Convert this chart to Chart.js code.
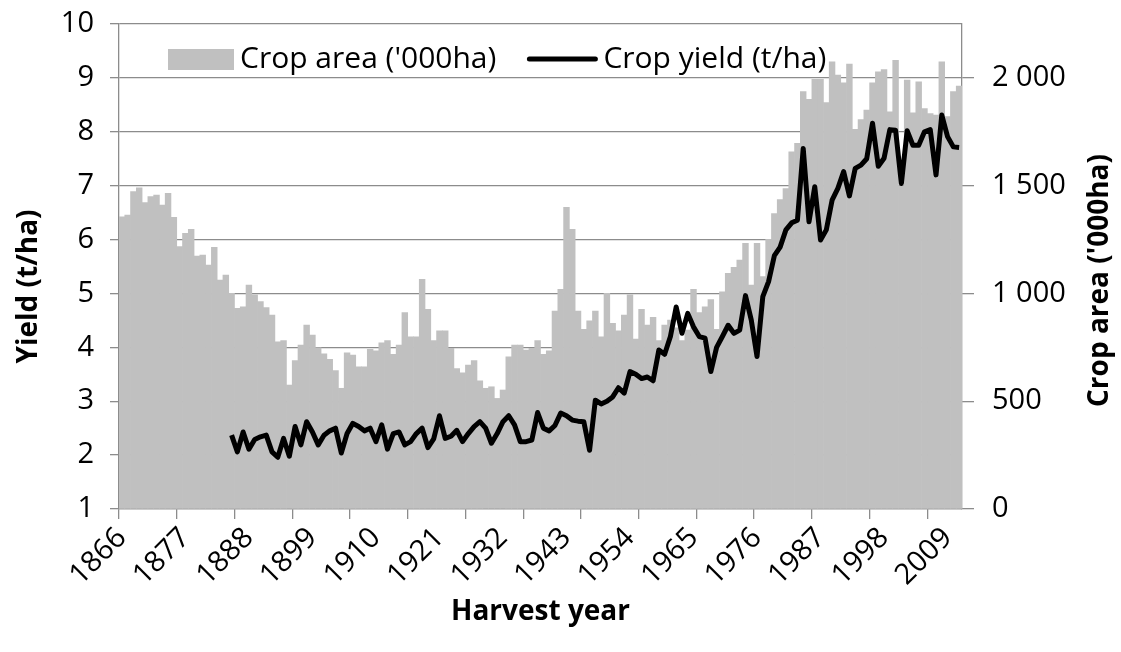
<!DOCTYPE html>
<html>
<head>
<meta charset="utf-8">
<title>Crop area and yield</title>
<script src="https://cdn.jsdelivr.net/npm/chart.js@4.4.1/dist/chart.umd.min.js"></script>
<style>
  html, body { margin: 0; padding: 0; background: #fff; }
  #wrap { width: 1121px; height: 652px; }
</style>
</head>
<body>
<div id="wrap"><canvas id="chart"></canvas></div>
<script>
// ---- data -------------------------------------------------------------
const firstYear = 1866;
const lastYear  = 2011;
const years = [];
for (let y = firstYear; y <= lastYear; y++) years.push(String(y));

// crop area ('000 ha), one value per harvest year 1866-2011
const cropArea = [
  1356, 1364, 1472, 1490, 1421, 1449, 1456, 1410, 1464, 1353,
  1217, 1279, 1297, 1173, 1178, 1132, 1214, 1062, 1085, 1000,
   931,  938, 1039,  993,  962,  935,  900,  776,  781,  575,
   688,  761,  853,  807,  748,  720,  694,  642,  560,  725,
   714,  660,  660,  741,  734,  771,  781,  717,  761,  911,
   799,  799, 1065,  926,  781,  826,  826,  745,  652,  632,
   668,  688,  595,  560,  567,  513,  552,  706,  761,  761,
   737,  745,  781,  717,  734,  918, 1019, 1399, 1297,  918,
   833,  873,  918,  799, 1000,  861,  827,  900,  993,  788,
   926,  853,  889,  781,  853,  877,  840,  781,  830, 1019,
   911,  938,  972,  833, 1008, 1093, 1121, 1155, 1232, 1039,
  1232, 1078, 1251, 1371, 1436, 1487, 1657, 1696, 1936, 1900,
  1993, 1993, 1885, 2075, 2013, 1977, 2064, 1761, 1807, 1851,
  1977, 2028, 2039, 1843, 2082, 1500, 1990, 1838, 1982, 1858,
  1835, 1827, 2075, 1820, 1936, 1962
];

// crop yield (t/ha); no record before 1885
const cropYield = [
  null, null, null, null, null, null, null, null, null, null,
  null, null, null, null, null, null, null, null, null, 2.37,
  2.06, 2.43, 2.11, 2.29, 2.34, 2.37, 2.06, 1.96, 2.31, 1.98,
  2.53, 2.19, 2.62, 2.43, 2.19, 2.37, 2.45, 2.50, 2.04, 2.40,
  2.59, 2.53, 2.45, 2.50, 2.25, 2.56, 2.11, 2.40, 2.43, 2.19,
  2.25, 2.40, 2.50, 2.14, 2.30, 2.73, 2.31, 2.35, 2.46, 2.25,
  2.40, 2.53, 2.62, 2.50, 2.22, 2.40, 2.62, 2.73, 2.56, 2.25,
  2.25, 2.28, 2.79, 2.50, 2.45, 2.55, 2.78, 2.73, 2.65, 2.63,
  2.62, 2.09, 3.02, 2.95, 3.00, 3.08, 3.25, 3.15, 3.55, 3.50,
  3.42, 3.45, 3.38, 3.95, 3.87, 4.20, 4.75, 4.26, 4.63, 4.38,
  4.20, 4.17, 3.55, 4.00, 4.20, 4.41, 4.26, 4.32, 4.96, 4.51,
  3.83, 4.94, 5.22, 5.70, 5.86, 6.18, 6.31, 6.36, 7.69, 6.33,
  6.98, 5.99, 6.18, 6.73, 6.95, 7.26, 6.81, 7.32, 7.38, 7.50,
  8.16, 7.36, 7.51, 8.04, 8.03, 7.04, 8.02, 7.75, 7.75, 8.00,
  8.04, 7.20, 8.31, 7.91, 7.72, 7.71
];

const yTicks  = [1, 2, 3, 4, 5, 6, 7, 8, 9, 10];
const y2Ticks = [0, 500, 1000, 1500, 2000];

const seriesNames = ["Crop area ('000ha)", 'Crop yield (t/ha)'];
const xTitle  = 'Harvest year';
const yTitle  = 'Yield (t/ha)';
const y2Title = "Crop area ('000ha)";

const labelEvery = 11;   // one year label every 11 years
const tickEvery  = 10;   // tick marks every 10 categories

// ---- look -------------------------------------------------------------
const FONT = '"Open Sans", "DejaVu Sans", sans-serif';
const GREY = '#c0c0c0';
const AXIS = '#8c8c8c';
Chart.defaults.font.family = FONT;
Chart.defaults.color = '#000';

const fmtThousands = v => String(v).replace(/\B(?=(\d{3})+(?!\d))/g, ' ');

// legend sits inside the plot area
const insideLegend = {
  id: 'insideLegend',
  afterDraw(chart) {
    const { ctx, chartArea } = chart;
    const y = chartArea.top + 35;
    ctx.save();
    ctx.font = '30px ' + FONT;
    ctx.textBaseline = 'middle';
    ctx.fillStyle = GREY;
    let x = chartArea.left + 49;
    ctx.fillRect(x, y - 10, 66, 21);
    ctx.fillStyle = '#000';
    x += 72;
    ctx.fillText(seriesNames[0], x, y);
    x += ctx.measureText(seriesNames[0]).width + 33;
    ctx.strokeStyle = '#000';
    ctx.lineWidth = 5;
    ctx.lineCap = 'round';
    ctx.beginPath();
    ctx.moveTo(x, y);
    ctx.lineTo(x + 66, y);
    ctx.stroke();
    ctx.fillText(seriesNames[1], x + 74, y);
    ctx.restore();
  }
};

// axis titles
const axisTitles = {
  id: 'axisTitles',
  afterDraw(chart) {
    const { ctx, chartArea, width, height } = chart;
    const midY = (chartArea.top + chartArea.bottom) / 2;
    ctx.save();
    ctx.font = 'bold 28px ' + FONT;
    ctx.fillStyle = '#000';
    ctx.textAlign = 'center';
    ctx.textBaseline = 'middle';
    ctx.fillText(xTitle, (chartArea.left + chartArea.right) / 2, height - 40);

    ctx.save();
    ctx.translate(29, midY + 20);
    ctx.rotate(-Math.PI / 2);
    ctx.fillText(yTitle, 0, 0);
    ctx.restore();

    ctx.save();
    ctx.translate(width - 21, midY + 14);
    ctx.rotate(-Math.PI / 2);
    ctx.fillText(y2Title, 0, 0);
    ctx.restore();
    ctx.restore();
  }
};

// keep the plot edges where the original has them
const noEdgePadding = s => { s.paddingTop = 0; s.paddingBottom = 0; };

new Chart(document.getElementById('chart'), {
  data: {
    labels: years,
    datasets: [
      {
        type: 'line',
        label: seriesNames[1],
        data: cropYield,
        yAxisID: 'y',
        borderColor: '#000',
        borderWidth: 5,
        borderJoinStyle: 'round',
        pointRadius: 0,
        tension: 0,
        order: 0
      },
      {
        type: 'bar',
        label: seriesNames[0],
        data: cropArea,
        yAxisID: 'y2',
        backgroundColor: GREY,
        borderWidth: 0,
        barPercentage: 1,
        categoryPercentage: 1,
        order: 1
      }
    ]
  },
  options: {
    responsive: true,
    maintainAspectRatio: false,
    devicePixelRatio: 1,
    animation: false,
    layout: { padding: { top: 24, left: 0, right: 0, bottom: 0 } },
    plugins: {
      legend: { display: false },
      tooltip: { enabled: false }
    },
    scales: {
      x: {
        type: 'category',
        offset: true,
        grid: {
          offset: true,
          drawOnChartArea: false,
          drawTicks: true,
          tickLength: 10,
          lineWidth: 1.3,
          color: c => (c.index % tickEvery === 0 ? AXIS : 'rgba(0,0,0,0)')
        },
        border: { display: true, color: AXIS, width: 1.3 },
        ticks: {
          autoSkip: false,
          minRotation: 45,
          maxRotation: 45,
          padding: 2,
          font: { size: 29 },
          callback: (v, i) => (i % labelEvery === 0 ? years[i] : '')
        },
        afterFit: s => { s.height = 143; }
      },
      y: {
        position: 'left',
        min: 1,
        max: 10,
        afterBuildTicks: s => { s.ticks = yTicks.map(v => ({ value: v })); },
        ticks: { padding: 16, font: { size: 29 } },
        grid: { color: AXIS, lineWidth: 1.3, tickLength: 9 },
        border: { display: true, color: AXIS, width: 1.3 },
        afterFit: s => { s.width = 119; noEdgePadding(s); }
      },
      y2: {
        position: 'right',
        min: 0,
        max: 2250,
        afterBuildTicks: s => { s.ticks = y2Ticks.map(v => ({ value: v })); },
        ticks: {
          padding: 18,
          font: { size: 29 },
          callback: v => fmtThousands(v)
        },
        grid: { drawOnChartArea: false, tickLength: 12, lineWidth: 1.3, color: AXIS },
        border: { display: true, color: AXIS, width: 1.3 },
        afterFit: s => { s.width = 159; noEdgePadding(s); }
      }
    }
  },
  plugins: [insideLegend, axisTitles]
});
</script>
</body>
</html>
